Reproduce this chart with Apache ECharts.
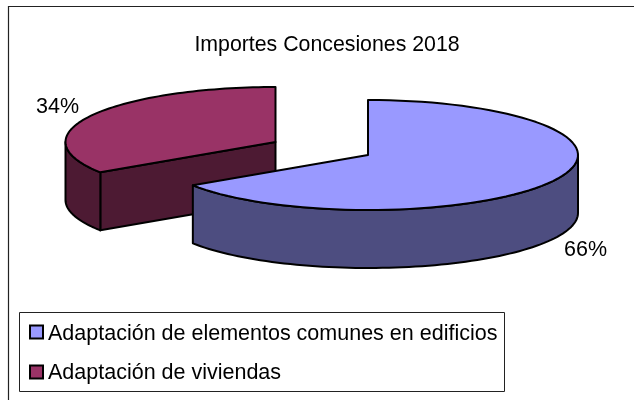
<!DOCTYPE html>
<html>
<head>
<meta charset="utf-8">
<style>
html, body { margin: 0; padding: 0; background: #fff; }
#chart { width: 634px; height: 400px; }
</style>
<script src="https://cdn.jsdelivr.net/npm/echarts@6/dist/echarts.min.js"></script>
</head>
<body>
<div id="chart"></div>
<script>
var categories = ['Adaptación de elementos comunes en edificios', 'Adaptación de viviendas'];
var values = [65.7, 34.3];
var percentLabels = ['66%', '34%'];
var topColors = ['#9999FF', '#993366'];
var wallColors = ['#4D4D80', '#4D1A33'];
// apex of each slice on the page, the second one is pulled out
var apex = [[368, 155], [275.5, 142]];
var rx = 210, ry = 55, depth = 58;
var total = values[0] + values[1];

function pt(c, a, dy) {
  return [c[0] + rx * Math.sin(a), c[1] - ry * Math.cos(a) + (dy || 0)];
}
function arc(c, a0, a1, dy) {
  var out = [];
  var n = 80;
  for (var i = 0; i <= n; i++) {
    out.push(pt(c, a0 + (a1 - a0) * i / n, dy));
  }
  return out;
}
function poly(points, fill) {
  return {
    type: 'polygon',
    shape: { points: points },
    style: { fill: fill, stroke: '#000', lineWidth: 2, lineJoin: 'round' }
  };
}
function renderSlice(params, api) {
  var i = api.value(0);
  var before = 0;
  for (var k = 0; k < i; k++) before += values[k];
  var a0 = before / total * Math.PI * 2;
  var a1 = (before + api.value(1)) / total * Math.PI * 2;
  var c = apex[i];
  var children = [];
  // cut face of the slice that looks to the viewer
  if (a1 >= Math.PI * 2 - 0.001) {
    var s = pt(c, a0);
    children.push(poly([s, c, [c[0], c[1] + depth], [s[0], s[1] + depth]], wallColors[i]));
  }
  // outer wall, only the part facing front
  var w0 = Math.max(a0, Math.PI / 2);
  var w1 = Math.min(a1, Math.PI * 3 / 2);
  if (w1 > w0) {
    children.push(poly(arc(c, w0, w1, 0).concat(arc(c, w1, w0, depth)), wallColors[i]));
  }
  children.push(poly([c].concat(arc(c, a0, a1, 0)), topColors[i]));
  return { type: 'group', children: children };
}

var chart = echarts.init(document.getElementById('chart'), null, { renderer: 'canvas' });
var font = 'Liberation Sans';
var fontSize = 21.5;
function label(x, y, text) {
  return { type: 'text', x: x, y: y, silent: true, style: { text: text, fontFamily: font, fontSize: fontSize, fill: '#000', verticalAlign: 'middle' } };
}
function swatch(y, fill) {
  return { type: 'rect', silent: true, shape: { x: 30, y: y, width: 13, height: 13 }, style: { fill: fill, stroke: '#000', lineWidth: 2 } };
}
chart.setOption({
  animation: false,
  backgroundColor: '#fff',
  title: {
    text: 'Importes Concesiones 2018',
    left: 322, top: 30, textAlign: 'center',
    textStyle: { fontFamily: font, fontSize: 21.3, fontWeight: 'normal', color: '#000' }
  },
  graphic: [
    // chart frame runs off the picture on the right and at the bottom
    { type: 'polyline', silent: true, shape: { points: [[8.5, 400], [8.5, 6.5], [634, 6.5]] }, style: { fill: 'none', stroke: '#222', lineWidth: 1.2 } },
    { type: 'rect', silent: true, shape: { x: 19.5, y: 312.5, width: 485, height: 79 }, style: { fill: '#fff', stroke: '#222', lineWidth: 1 } },
    swatch(325.5, topColors[0]),
    swatch(365.5, topColors[1]),
    label(48, 334, categories[0]),
    label(48, 373, categories[1]),
    label(36, 107, percentLabels[1]),
    label(564, 250, percentLabels[0])
  ],
  series: [{
    type: 'custom',
    coordinateSystem: 'none',
    renderItem: renderSlice,
    // the pulled out slice goes first so the big one covers it
    data: [[1, values[1]], [0, values[0]]],
    z: 2
  }]
});
</script>
</body>
</html>
